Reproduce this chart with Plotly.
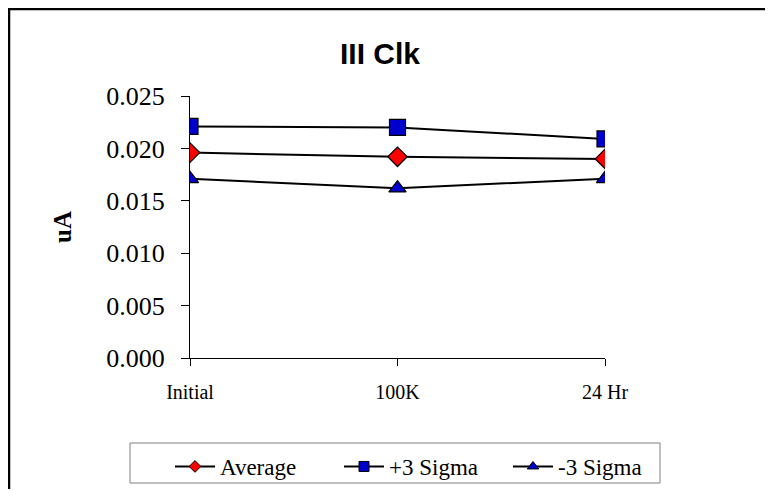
import plotly.graph_objects as go

# данные
categories = ['Initial', '100K', '24 Hr']
average = [0.0196, 0.0192, 0.0190]
plus_3_sigma = [0.0221, 0.0220, 0.0209]
minus_3_sigma = [0.0171, 0.0162, 0.0171]
y_ticks = [0.000, 0.005, 0.010, 0.015, 0.020, 0.025]

SERIF = 'Liberation Serif'
SANS = 'Liberation Sans'

# страница имеет отступ 8px, поэтому фигура меньше окна
W, H = 757, 481
L, T = 182, 88
pw, ph = 415, 262
R, B = W - L - pw, H - T - ph


def px_x(x):
    # пиксели фигуры -> доли области построения
    return (x - L) / pw


def px_y(y):
    return (ph + T - y) / ph


series = [
    ('Average', average, 'diamond', '#ff0000', 15, 9),
    ('+3 Sigma', plus_3_sigma, 'square', '#0000cc', 16, 10),
    ('-3 Sigma', minus_3_sigma, 'triangle-up', '#0000cc', 15, 10),
]

fig = go.Figure()

for name, values, symbol, color, size, legend_size in series:
    fig.add_trace(go.Scatter(
        x=categories, y=values, mode='lines+markers', name=name, showlegend=False,
        line=dict(color='black', width=2),
        marker=dict(symbol=symbol, size=size, color=color, line=dict(color='black', width=1.2))))

# отдельные записи легенды с маленькими маркерами
for name, values, symbol, color, size, legend_size in series:
    fig.add_trace(go.Scatter(
        x=[None], y=[None], mode='lines+markers', name=name,
        line=dict(color='black', width=2),
        marker=dict(symbol=symbol, size=legend_size, color=color, line=dict(color='black', width=1))))

# рамка вокруг диаграммы: видны только верхний и левый края
fig.add_shape(type='line', xref='paper', yref='paper',
              x0=px_x(0), x1=px_x(W), y0=px_y(1), y1=px_y(1),
              line=dict(color='black', width=2.5))
fig.add_shape(type='line', xref='paper', yref='paper',
              x0=px_x(1), x1=px_x(1), y0=px_y(0), y1=px_y(H),
              line=dict(color='black', width=2.5))
# рамка легенды
fig.add_shape(type='rect', xref='paper', yref='paper',
              x0=px_x(122), x1=px_x(652), y0=px_y(475), y1=px_y(435),
              line=dict(color='#808080', width=1), fillcolor='rgba(0,0,0,0)', layer='below')

fig.update_layout(
    width=W, height=H,
    margin=dict(l=L, r=R, t=T, b=B, autoexpand=False),
    paper_bgcolor='white', plot_bgcolor='white',
    title=dict(text='<b>III Clk</b>', x=px_x(372), xref='paper', xanchor='center',
               y=(H - 45) / H, yanchor='middle',
               font=dict(family=SANS, size=30, color='black')),
    showlegend=True,
    legend=dict(orientation='h', x=px_x(162), xanchor='left',
                y=px_y(437), yanchor='top',
                borderwidth=0, bgcolor='rgba(0,0,0,0)',
                font=dict(family=SERIF, size=23, color='black'),
                entrywidth=114, entrywidthmode='pixels',
                itemwidth=40, traceorder='normal'),
    xaxis=dict(range=[0, 2], showgrid=False, zeroline=False,
               showline=True, linecolor='black', linewidth=1,
               ticks='outside', ticklen=7, tickcolor='black',
               ticklabelstandoff=9,
               tickfont=dict(family=SERIF, size=20, color='black')),
    yaxis=dict(range=[0, 0.025], tickvals=y_ticks, tickformat='.3f',
               showgrid=False, zeroline=False,
               showline=True, linecolor='black', linewidth=1,
               ticks='outside', ticklen=8, tickcolor='black',
               ticklabelstandoff=11,
               tickfont=dict(family=SERIF, size=26, color='black'),
               title=dict(text='<b>uA</b>', standoff=27,
                          font=dict(family=SERIF, size=25, color='black'))),
)

fig.write_html('out.html')
